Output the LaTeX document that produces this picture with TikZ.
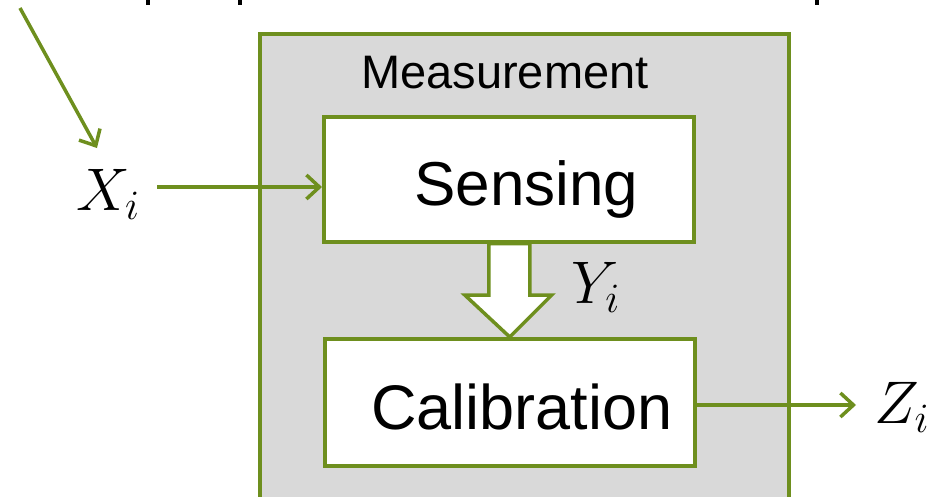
\documentclass[tikz,border=0pt]{standalone}
\usepackage{graphicx}
\usepackage{fontspec}
\setmainfont{Liberation Sans}
\usetikzlibrary{arrows.meta}
\definecolor{olive}{RGB}{110,143,30}
\definecolor{panel}{RGB}{217,217,217}
\newcommand{\bigmath}[1]{\scalebox{2.9}{\fontsize{20}{24}\selectfont\(#1\)}}
\tikzset{
  box/.style={draw=olive, line width=3.5pt, fill=white, rectangle, inner sep=0pt},
  conn/.style={draw=olive, line width=3.5pt, -{Straight Barb[length=13pt,width=24pt,line width=3.5pt]}},
  lbl/.style={inner sep=0pt, anchor=base west},
  mathlbl/.style={inner sep=0pt, anchor=base west},
}
\begin{document}
\begin{tikzpicture}[x=1pt,y=-1pt]
\useasboundingbox (0,0) rectangle (940,496);
\clip (0,0) rectangle (940,496);
% cut-off text fragments at the top
\fill (146,0) rectangle (150,5);
\fill (238,0) rectangle (242,5);
\fill (815,0) rectangle (819,5);
% outer panel
\node[draw=olive, fill=panel, line width=3.5pt, rectangle, inner sep=0pt,
      minimum width=529pt, minimum height=500pt, anchor=north west] (meas) at (258,32) {};
\node[lbl, font=\fontsize{47}{54}\selectfont] (meastext) at (361,88) {Measurement};
% boxes
\node[box, minimum width=370pt, minimum height=125pt, anchor=north west] (sens) at (322,115) {};
\node[lbl, font=\fontsize{62}{70}\selectfont] (senstext) at (414,205) {Sensing};
\node[box, minimum width=370pt, minimum height=127pt, anchor=north west] (calib) at (323,337) {};
\node[lbl, font=\fontsize{63}{70}\selectfont] (calibtext) at (371,429) {Calibration};
% labels
\node[mathlbl] (x) at (76,210) {\bigmath{X_i}};
\node[mathlbl] (y) at (571,303) {\bigmath{Y_i}};
\node[mathlbl] (z) at (874,423) {\bigmath{Z_i}};
% connectors
\coordinate (src) at (20,8);
\coordinate (xarrowend) at (97,148);
\draw[conn] (src) -- (xarrowend);
\coordinate (xs) at (157,187);
\draw[conn] (xs) -- (sens.west |- xs);
\coordinate (zend) at (856,405);
\draw[conn] (calib.east |- zend) -- (zend);
% block arrow between sensing and calibration
\draw[draw=olive, fill=white, line width=3.5pt, line join=miter]
  ([xshift=-20pt]sens.south) -- ([xshift=21pt]sens.south)
  -- ([xshift=21pt]sens.south |- 0,295) -- ([xshift=43pt]sens.south |- 0,295)
  -- (calib.north) -- ([xshift=-44pt]sens.south |- 0,295)
  -- ([xshift=-20pt]sens.south |- 0,295) -- cycle;
\end{tikzpicture}
\end{document}
